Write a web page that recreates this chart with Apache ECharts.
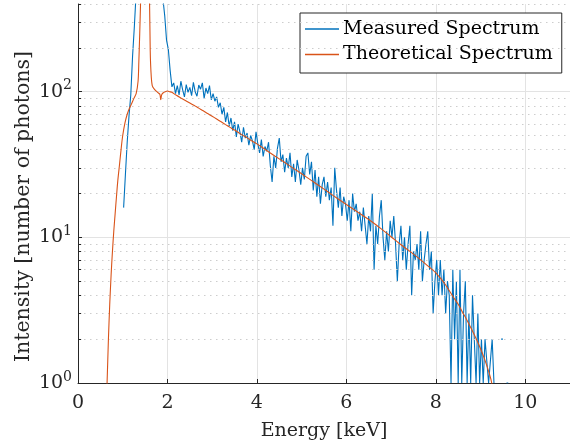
<!DOCTYPE html>
<html>
<head>
<meta charset="utf-8">
<script src="https://cdn.jsdelivr.net/npm/echarts@6/dist/echarts.min.js"></script>
<style>html,body{margin:0;padding:0;background:#fff}#c{width:570px;height:448px}</style>
</head>
<body>
<div id="c"></div>
<script>
// Measured spectrum: photon counts per 0.04 keV bin, first bin at 1.02 keV
const measuredStart = 1.02;
const measuredStep = 0.04;
const measuredCounts = [
  16, 27, 45, 68, 95, 175, 280, 480, 900, 1600,        // 1.02-1.38
  2600, 3600, 4200, 4000, 3300, 2500, 1800, 1300, 950, 720, // 1.42-1.78
  560, 480, 430, 330, 225, 195, 140, 108, 115, 97,     // 1.82-2.18
  110, 95, 118, 103, 92, 112, 99, 107, 94, 116,        // 2.22-2.58
  100, 93, 111, 104, 115, 90, 106, 97, 110, 88,        // 2.62-2.98
  97, 86, 92, 78, 84, 70, 78, 62, 72, 58,              // 3.02-3.38
  66, 54, 62, 49, 60, 53, 45, 57, 48, 52,              // 3.42-3.78
  43, 50, 46, 40, 53, 44, 38, 47, 36, 42,              // 3.82-4.18
  39, 45, 31, 24, 36, 30, 41, 48, 33, 37,              // 4.22-4.58
  28, 35, 30, 38, 26, 32, 24, 34, 29, 23,              // 4.62-4.98
  30, 25, 36, 38, 27, 33, 21, 29, 19, 26,              // 5.02-5.38
  17, 23, 26, 19, 24, 18, 22, 12, 30, 21,              // 5.42-5.78
  16, 22, 14, 19, 17, 13, 18, 11, 20, 15,              // 5.82-6.18
  17, 13, 15, 11, 16, 12, 9, 14, 11, 20,               // 6.22-6.58
  6, 12, 9, 14, 18, 10, 7, 11, 8, 13,                  // 6.62-6.98
  10, 14, 9, 5, 9, 12, 7, 10, 6, 9,                    // 7.02-7.38
  12, 4, 8, 7, 9, 6, 11, 5, 7, 9,                      // 7.42-7.78
  11, 6, 8, 3, 5, 7, 4, 7, 4, 6,                       // 7.82-8.18
  3, 5, 4, 1, 6, 2, 5, 1, 6, 1,                        // 8.22-8.58
  3, 5, 1, 3, 1, 4, 2, 1, 3, 1,                        // 8.62-8.98
  2, 1, 2, 2, 1, 1, 2, 1, 0, 1,                        // 9.02-9.38
  0, 2, 2, 0, 1, 1, 0, 1, 0, 0                         // 9.42-9.78
];

// Theoretical spectrum (energy keV, intensity)
const theoryEnergy = [
  0.62, 0.65, 0.68, 0.71, 0.74, 0.77, 0.80, 0.83, 0.86, 0.89,
  0.93, 0.97, 1.00, 1.05, 1.10, 1.15, 1.20, 1.25, 1.30, 1.343,
  1.36, 1.38, 1.40, 1.45, 1.50, 1.55, 1.60, 1.615, 1.63, 1.66,
  1.72, 1.78, 1.83, 1.85, 1.87, 1.90, 1.95, 2.00, 2.05, 2.10,
  2.2, 2.3, 2.4, 2.5, 2.6, 2.7, 2.8, 2.9, 3.0, 3.1,
  3.2, 3.3, 3.4, 3.5, 3.6, 3.7, 3.8, 3.9, 4.0, 4.2,
  4.4, 4.6, 4.8, 5.0, 5.2, 5.4, 5.6, 5.8, 6.0, 6.2,
  6.4, 6.6, 6.8, 7.0, 7.2, 7.4, 7.6, 7.8, 8.0, 8.2,
  8.4, 8.5, 8.6, 8.7, 8.8, 8.9, 9.0, 9.1, 9.2, 9.25,
  9.3, 9.4
];
const theoryValue = [
  0.6, 1.0, 2.0, 3.5, 5.5, 8.0, 11, 14.5, 19, 24.5,
  32, 42, 50, 61, 70, 77, 83, 90, 97, 118,
  160, 250, 420, 1500, 3000, 1500, 400, 190, 140, 110,
  103, 99, 96, 88, 95, 98, 100, 101, 100, 99,
  94.4, 90.6, 87.1, 83.6, 80.4, 77.1, 74.0, 70.8, 67.8, 64.9,
  62.1, 59.4, 56.9, 54.5, 52.1, 49.9, 47.8, 45.7, 43.8, 39.8,
  36.2, 33.0, 30.0, 27.3, 24.8, 22.5, 20.4, 18.5, 16.8, 15.3,
  13.9, 12.6, 11.3, 10.1, 9.0, 8.1, 7.25, 6.45, 5.7, 4.8,
  3.85, 3.47, 3.05, 2.69, 2.34, 2.02, 1.72, 1.43, 1.15, 1.0,
  0.8, 0.5
];

// Axis ticks
const xTicks = [0, 2, 4, 6, 8, 10];
const yMajor = [1, 10, 100];
const yMinor = [2, 3, 4, 5, 6, 7, 8, 9, 20, 30, 40, 50, 60, 70, 80, 90, 200, 300, 400];

const measuredData = measuredCounts.map((c, i) => [
  +(measuredStart + i * measuredStep).toFixed(3), c > 0 ? c : null
]);
const theoryData = theoryEnergy.map((e, i) => [e, theoryValue[i]]);

const FONT = 'DejaVu Serif';
const chart = echarts.init(document.getElementById('c'), null, { renderer: 'canvas' });
chart.setOption({
  animation: false,
  backgroundColor: '#fff',
  grid: { left: 78, right: -2, top: 4, bottom: 65, containLabel: false },
  legend: {
    left: 300, top: 13,
    orient: 'vertical',
    icon: 'rect',
    itemWidth: 34, itemHeight: 1.3, itemGap: 6.5,
    padding: [6.5, 9, 9, 5],
    backgroundColor: '#fff',
    borderColor: '#262626', borderWidth: 1, borderRadius: 0,
    textStyle: { fontFamily: FONT, fontSize: 19, color: '#000', padding: [0, 0, 0, -1] },
    data: ['Measured Spectrum', 'Theoretical Spectrum']
  },
  xAxis: {
    type: 'value', min: 0, max: 11, interval: 2,
    name: 'Energy [keV]', nameLocation: 'middle', nameGap: 39, nameMoveOverlap: false,
    nameTextStyle: { fontFamily: FONT, fontSize: 19, color: '#262626' },
    axisLine: { show: true, lineStyle: { color: '#262626', width: 1 } },
    axisTick: { show: true, inside: true, length: 4, lineStyle: { color: '#262626' } },
    axisLabel: {
      fontFamily: FONT, fontSize: 19, color: '#262626', margin: 11,
      showMaxLabel: false,
      formatter: v => xTicks.indexOf(v) >= 0 ? String(v) : ''
    },
    splitLine: { show: true, showMaxLine: false, lineStyle: { color: '#e3e3e3', width: 1 } }
  },
  yAxis: {
    type: 'log', logBase: 10, min: 1, max: 400,
    name: 'Intensity [number of photons]', nameLocation: 'middle', nameGap: 44, nameMoveOverlap: false,
    nameTextStyle: { fontFamily: FONT, fontSize: 20.5, color: '#262626', padding: [0, 26, 0, 0] },
    axisLine: { show: true, lineStyle: { color: '#262626', width: 1 } },
    axisTick: { show: true, inside: true, length: 4, lineStyle: { color: '#262626' } },
    axisLabel: {
      fontFamily: FONT, fontSize: 19, color: '#262626', margin: 6,
      showMaxLabel: false,
      formatter: v => {
        const e = Math.round(Math.log10(v));
        if (yMajor.indexOf(v) < 0 && Math.abs(Math.pow(10, e) - v) > 1e-6) return '';
        return '10{s|' + e + '}';
      },
      rich: { s: { fontFamily: FONT, fontSize: 14, color: '#262626', padding: [0, 0, 12, 0] } }
    },
    splitLine: { show: true, showMaxLine: false, lineStyle: { color: '#e3e3e3', width: 1 } }
  },
  series: [
    {
      name: '_minorGrid', type: 'line', data: [], silent: true, z: 1,
      markLine: {
        silent: true, symbol: 'none', animation: false,
        label: { show: false },
        lineStyle: { color: '#cdcdcd', type: [1.5, 4.5], width: 1 },
        data: yMinor.map(v => ({ yAxis: v }))
      }
    },
    {
      name: '_minorTicks', type: 'line', data: [], silent: true, z: 3,
      markLine: {
        silent: true, symbol: 'none', animation: false,
        label: { show: false },
        lineStyle: { color: '#262626', type: 'solid', width: 1 },
        data: yMinor.map(v => [{ coord: [0, v] }, { coord: [0.07, v] }])
      }
    },
    {
      name: 'Measured Spectrum', type: 'line', data: measuredData,
      symbol: 'none', connectNulls: false, clip: true, z: 4,
      lineStyle: { color: '#0072BD', width: 1.1 }, itemStyle: { color: '#0072BD' }
    },
    {
      name: 'Theoretical Spectrum', type: 'line', data: theoryData,
      symbol: 'none', clip: true, z: 5, smooth: 0.3,
      lineStyle: { color: '#D95319', width: 1.1 }, itemStyle: { color: '#D95319' }
    }
  ]
});
</script>
</body>
</html>
